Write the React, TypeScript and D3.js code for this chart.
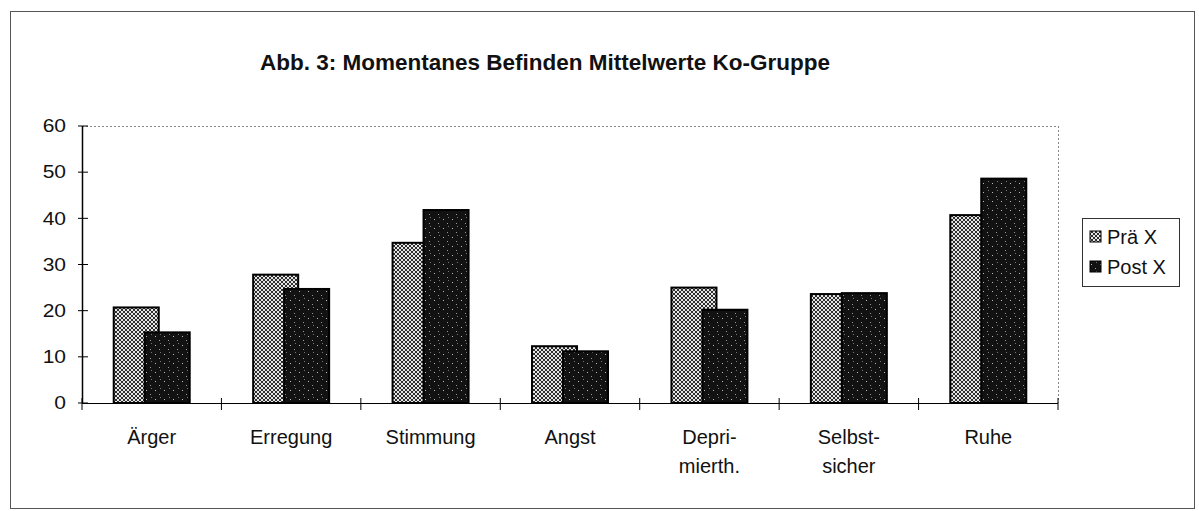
import React from "react";
import * as d3 from "d3";

const categories: string[][] = [
  ["Ärger"],
  ["Erregung"],
  ["Stimmung"],
  ["Angst"],
  ["Depri-", "mierth."],
  ["Selbst-", "sicher"],
  ["Ruhe"],
];
const preValues = [20.7, 27.8, 34.7, 12.3, 25.0, 23.6, 40.7];
const postValues = [15.3, 24.7, 41.8, 11.2, 20.2, 23.8, 48.6];
const seriesNames = ["Prä X", "Post X"];
const yTicks = [0, 10, 20, 30, 40, 50, 60];
const title = "Abb. 3: Momentanes Befinden Mittelwerte Ko-Gruppe";

const W = 1199;
const H = 511;
const left = 82;
const right = 1058;
const top = 126;
const bottom = 403;
const font = "Liberation Sans, Arial, sans-serif";

export default function App() {
  const x = d3
    .scaleBand<number>()
    .domain(d3.range(categories.length))
    .range([left, right])
    .padding(0);
  const y = d3.scaleLinear().domain([0, 60]).range([bottom, top]);
  const bw = x.bandwidth();
  const barW = bw * 0.323;
  const step = bw * 0.222;
  const pairW = barW + step;

  const series = [preValues, postValues];
  const fills = ["url(#prePat)", "url(#postPat)"];

  return (
    <svg
      width={W}
      height={H}
      style={{ position: "absolute", left: 0, top: 0, background: "#fff" }}
    >
      <defs>
        <pattern id="prePat" width="4" height="4" patternUnits="userSpaceOnUse">
          <rect width="4" height="4" fill="#e6e6e6" />
          <path d="M0,0 L4,4 M4,0 L0,4" stroke="#1a1a1a" strokeWidth={0.9} />
        </pattern>
        <pattern id="postPat" width="9" height="9" patternUnits="userSpaceOnUse">
          <rect width="9" height="9" fill="#121212" />
          <rect x="2" y="3" width="1" height="1" fill="#bbb" />
          <rect x="6" y="7" width="1" height="1" fill="#999" />
          <rect x="7" y="1" width="1" height="1" fill="#777" />
        </pattern>
      </defs>

      {/* outer frame */}
      <rect x={10.5} y={11.5} width={1184} height={497} fill="none" stroke="#555" strokeWidth={1} />

      {/* title */}
      <text
        x={545}
        y={70}
        textAnchor="middle"
        fontFamily={font}
        fontWeight="bold"
        fontSize={22.5}
        fill="#111"
      >
        {title}
      </text>

      {/* plot area border (dotted) */}
      <line x1={left} x2={right} y1={top + 0.5} y2={top + 0.5} stroke="#888" strokeDasharray="2,2" />
      <line x1={right + 0.5} x2={right + 0.5} y1={top} y2={bottom} stroke="#888" strokeDasharray="2,2" />

      {/* bars */}
      {categories.map((_, i) =>
        series.map((vals, s) => {
          const x0 = (x(i) as number) + bw / 2 - pairW / 2 + s * step;
          return (
            <rect
              key={`${i}-${s}`}
              x={x0}
              y={y(vals[i])}
              width={barW}
              height={bottom - y(vals[i])}
              fill={fills[s]}
              stroke="#000"
              strokeWidth={2}
            />
          );
        })
      )}

      {/* y axis */}
      <line x1={left + 0.5} x2={left + 0.5} y1={top} y2={bottom} stroke="#000" strokeWidth={1.5} />
      {yTicks.map((t) => (
        <g key={t}>
          <line x1={left - 4} x2={left + 6} y1={y(t)} y2={y(t)} stroke="#000" />
          <g transform={`translate(66,${y(t)}) scale(1.2,1)`}>
            <text
              x={0}
              y={0}
              dy="0.36em"
              textAnchor="end"
              fontFamily={font}
              fontSize={17.5}
              fill="#111"
            >
              {t}
            </text>
          </g>
        </g>
      ))}

      {/* x axis */}
      <line x1={left} x2={right} y1={bottom + 0.5} y2={bottom + 0.5} stroke="#000" strokeWidth={1.2} />
      {d3.range(categories.length + 1).map((i) => {
        const xx = left + i * bw;
        return <line key={i} x1={xx} x2={xx} y1={bottom - 5} y2={bottom + 7} stroke="#000" />;
      })}
      {categories.map((lines, i) => (
        <text
          key={i}
          x={(x(i) as number) + bw / 2}
          y={444}
          textAnchor="middle"
          fontFamily={font}
          fontSize={20}
          fill="#111"
        >
          {lines.map((l, k) => (
            <tspan key={k} x={(x(i) as number) + bw / 2} dy={k === 0 ? 0 : 29}>
              {l}
            </tspan>
          ))}
        </text>
      ))}

      {/* legend */}
      <rect x={1082.5} y={218.5} width={97} height={68} fill="#fff" stroke="#333" />
      {seriesNames.map((n, k) => (
        <g key={n}>
          <rect
            x={1090}
            y={237 + k * 30 - 6}
            width={11}
            height={11}
            fill={fills[k]}
            stroke="#000"
          />
          <text x={1107} y={237 + k * 30} dy="0.36em" fontFamily={font} fontSize={20} fill="#111">
            {n}
          </text>
        </g>
      ))}
    </svg>
  );
}
